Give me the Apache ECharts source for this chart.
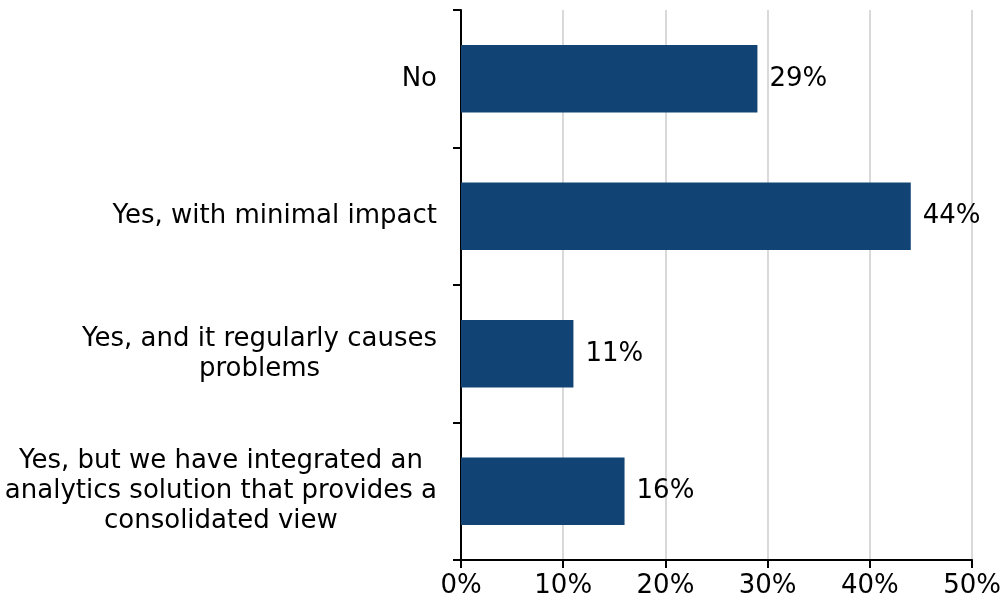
<!DOCTYPE html>
<html>
<head>
<meta charset="utf-8">
<script src="https://cdn.jsdelivr.net/npm/echarts@6/dist/echarts.min.js"></script>
<style>html,body{margin:0;padding:0;background:#fff}#c{width:1004px;height:608px}</style>
</head>
<body>
<div id="c"></div>
<script>
var categories = [
  "No",
  "Yes, with minimal impact",
  "Yes, and it regularly causes\nproblems",
  "Yes, but we have integrated an\nanalytics solution that provides a\nconsolidated view"
];
var values = [29, 44, 11, 16];
var xTicks = [0, 10, 20, 30, 40, 50];

var FONT = "DejaVu Sans";
var chart = echarts.init(document.getElementById('c'));
chart.setOption({
  animation: false,
  backgroundColor: '#fff',
  grid: { left: 461, right: 31, top: 10, bottom: 48, containLabel: false },
  xAxis: {
    type: 'value',
    min: xTicks[0],
    max: xTicks[xTicks.length - 1],
    interval: xTicks[1] - xTicks[0],
    axisLine: { show: true, lineStyle: { color: '#000', width: 2 } },
    axisTick: { show: true, length: 8, lineStyle: { color: '#000', width: 2 } },
    axisLabel: { formatter: '{value}%', color: '#000', fontFamily: FONT, fontSize: 26, margin: 13 },
    splitLine: { show: true, lineStyle: { color: '#d9d9d9', width: 2 } }
  },
  yAxis: {
    type: 'category',
    inverse: true,
    data: categories,
    axisLine: { show: true, lineStyle: { color: '#000', width: 2 } },
    axisTick: { show: true, length: 8, lineStyle: { color: '#000', width: 2 } },
    axisLabel: {
      margin: 24,
      color: '#000',
      fontFamily: FONT,
      fontSize: 26,
      lineHeight: 30,
      formatter: function (v) {
        return v.split('\n').map(function (l) { return '{c|' + l + '}'; }).join('\n');
      },
      rich: { c: { align: 'center', fontFamily: FONT, fontSize: 26, lineHeight: 30, color: '#000' } }
    },
    splitLine: { show: false }
  },
  series: [{
    type: 'bar',
    data: values,
    barWidth: '49%',
    itemStyle: { color: '#114475' },
    label: {
      show: true,
      position: 'right',
      distance: 12,
      formatter: '{c}%',
      color: '#000',
      fontFamily: FONT,
      fontSize: 26
    }
  }]
});
</script>
</body>
</html>
